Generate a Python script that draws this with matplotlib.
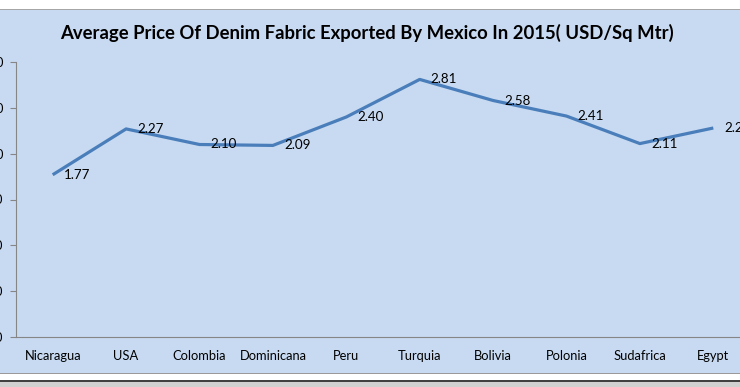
import matplotlib.pyplot as plt
from matplotlib.patches import Rectangle
from matplotlib.ticker import FormatStrFormatter

countries = ['Nicaragua', 'USA', 'Colombia', 'Dominicana', 'Peru',
             'Turquia', 'Bolivia', 'Polonia', 'Sudafrica', 'Egypt']
prices = [1.77, 2.27, 2.10, 2.09, 2.40, 2.81, 2.58, 2.41, 2.11, 2.28]
yticks = [0.0, 0.5, 1.0, 1.5, 2.0, 2.5, 3.0]

W, H = 740, 387
plt.rcParams['font.family'] = ['Lato', 'DejaVu Sans']
fig = plt.figure(figsize=(W / 100, H / 100), dpi=100)
fig.patch.set_facecolor('white')

# frame of the chart (blue panel, grey edges, shadow line at the bottom)
fig.patches.append(Rectangle((0, 1 - 9.5 / H), 1, 0.5 / H, transform=fig.transFigure,
                             facecolor='#a6a6a6', edgecolor='none', zorder=-1))
fig.patches.append(Rectangle((0, 1 - 373 / H), 1, 363 / H, transform=fig.transFigure,
                             facecolor='#c8daf1', edgecolor='none', zorder=-1))
fig.patches.append(Rectangle((0, 1 - 374 / H), 1, 1 / H, transform=fig.transFigure,
                             facecolor='#9a9a9a', edgecolor='none', zorder=-1))
fig.patches.append(Rectangle((0, 1 - 382 / H), 1, 2 / H, transform=fig.transFigure,
                             facecolor='#404040', edgecolor='none', zorder=-1))
fig.patches.append(Rectangle((0, 0), 1, 5 / H, transform=fig.transFigure,
                             facecolor='#d0d0d0', edgecolor='none', zorder=-1))

# plot area runs past the right edge, like the cropped original
ax = fig.add_axes([16 / W, 50 / H, 734 / W, 275 / H])
ax.set_zorder(2)
ax.set_facecolor('none')
x = list(range(len(countries)))
ax.plot(x, prices, color='#4a7ebb', linewidth=2.3, solid_capstyle='butt')
for xi, v in zip(x, prices):
    ax.annotate('%.2f' % v, (xi, v), xytext=(8, 0), textcoords='offset points',
                ha='left', va='center', fontsize=9.6, color='black')

ax.set_xlim(-0.5, len(countries) - 0.5)
ax.set_ylim(0, 3)
ax.set_yticks(yticks)
ax.yaxis.set_major_formatter(FormatStrFormatter('%.2f'))
ax.set_xticks(x)
ax.set_xticklabels(countries)
ax.tick_params(axis='x', length=0, pad=9, labelsize=9.3)
ax.tick_params(axis='y', length=4, width=0.8, color='#868686', pad=5, labelsize=9.3)
for s in ['top', 'right']:
    ax.spines[s].set_visible(False)
for s in ['left', 'bottom']:
    ax.spines[s].set_color('#868686')
    ax.spines[s].set_linewidth(0.8)

fig.text(367 / W, 1 - 33 / H,
         'Average Price Of Denim Fabric Exported By Mexico In 2015( USD/Sq Mtr)',
         ha='center', va='center', fontsize=13.3, fontweight='bold', color='black',
         zorder=3)

fig.savefig('out.png', dpi=100)
